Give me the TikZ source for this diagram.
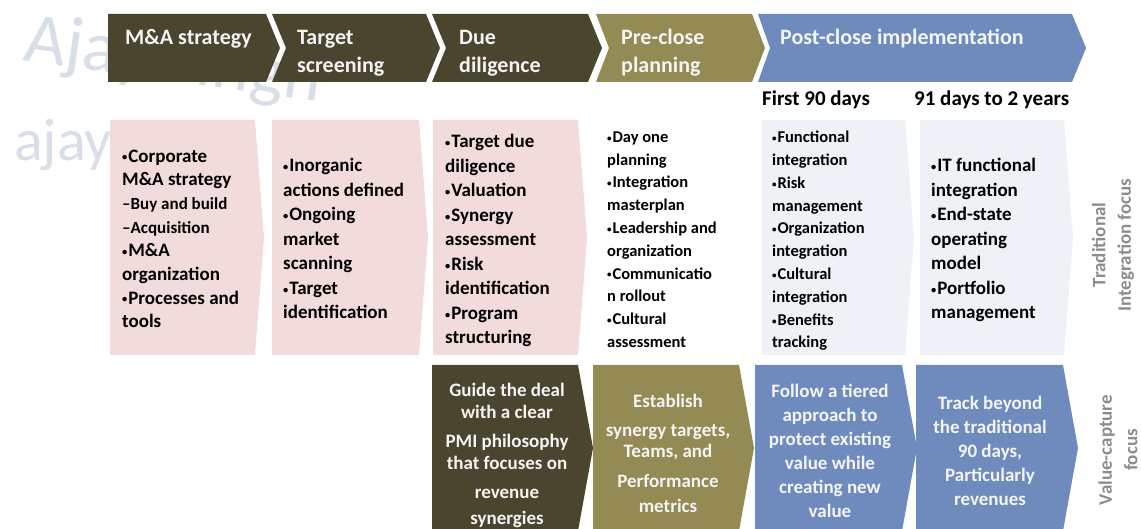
\documentclass[tikz,border=0pt]{standalone}
\usepackage{fontspec}
\setmainfont{Carlito}
\usepackage{graphicx}
\definecolor{darkol}{RGB}{74,69,46}
\definecolor{olive}{RGB}{148,138,84}
\definecolor{bluec}{RGB}{111,139,190}
\definecolor{pinkbox}{RGB}{242,220,219}
\definecolor{bluebox}{RGB}{238,241,246}
\definecolor{wmark}{RGB}{216,223,232}
\definecolor{sidegray}{RGB}{140,140,140}
\definecolor{txtw}{RGB}{244,244,244}
\newcommand{\chevshape}[7]{\fill[#1] (#2,#4) -- (#3,#4) -- ({#3+#7},{(#4+#5)/2}) -- (#3,#5) -- (#2,#5) -- ({#2+#6},{(#4+#5)/2}) -- cycle;}
\newcommand{\bu}{\raisebox{0.07em}{\scalebox{0.55}{•}}\hspace{0.05em}}
\tikzset{
  phase/.style={font=\fontsize{22}{28}\selectfont\bfseries, text=txtw, anchor=base west, align=left, inner sep=0pt},
  item/.style={font=\fontsize{19}{24.5}\selectfont\bfseries, text=black, anchor=base west, align=left, inner sep=0pt},
  itemsm/.style={font=\fontsize{16.5}{22.8}\selectfont\bfseries, text=black, anchor=base west, align=left, inner sep=0pt},
  period/.style={font=\fontsize{21}{26}\selectfont\bfseries, text=black, anchor=base west, inner sep=0pt},
  capt/.style={font=\fontsize{19}{24}\selectfont\bfseries, text=txtw, anchor=base, align=center, inner sep=0pt},
  side/.style={font=\fontsize{19}{25.5}\selectfont\bfseries, text=sidegray, align=center, rotate=90, inner sep=0pt},
  wm/.style={font=\fontsize{72}{80}\selectfont, text=wmark, anchor=base west, inner sep=0pt}
}
\begin{document}
\begin{tikzpicture}[x=1pt,y=-1pt]
\useasboundingbox (0,0) rectangle (1141,529);
% watermark
\node[wm, rotate=-8] (wm1) at (22,60) {Ajay Singh};
\node[wm, font=\fontsize{60}{70}\selectfont] (wm2) at (14,161) {ajay};
% top chevrons
\chevshape{darkol}{108}{266}{14}{82}{0}{14}
\chevshape{darkol}{272}{426}{14}{82}{14}{14}
\chevshape{darkol}{432}{588}{14}{82}{14}{14}
\chevshape{olive}{596}{752}{14}{82}{13}{13}
\chevshape{bluec}{758}{1072}{14}{82}{12}{14}
\node[phase] (p1) at (125,45) {M\&A strategy};
\node[phase] (p2) at (297,73) {Target\\screening};
\node[phase] (p3) at (459,73) {Due\\diligence};
\node[phase] (p4) at (621,73) {Pre-close\\planning};
\node[phase] (p5) at (780,45) {Post-close implementation};
\node[period] (t1) at (762,106) {First 90 days};
\node[period] (t2) at (914,106) {91 days to 2 years};
% content boxes
\chevshape{pinkbox}{110}{255}{120}{355}{0}{9}
\chevshape{pinkbox}{272}{419}{120}{355}{0}{9}
\chevshape{pinkbox}{433}{578}{120}{355}{0}{9}
\chevshape{bluebox}{762}{905}{120}{355}{0}{9}
\chevshape{bluebox}{920}{1064}{120}{355}{0}{9}
\node[item, font=\fontsize{19}{23.7}\selectfont\bfseries] (b1) at (122,328) {\bu Corporate\\M\&A strategy\\{\fontsize{17}{23.7}\selectfont –Buy and build}\\{\fontsize{17}{23.7}\selectfont –Acquisition}\\\bu M\&A\\organization\\\bu Processes and\\tools};
\node[item] (b2) at (283,319) {\bu Inorganic\\actions defined\\\bu Ongoing\\market\\scanning\\\bu Target\\identification};
\node[item] (b3) at (445,344) {\bu Target due\\diligence\\\bu Valuation\\\bu Synergy\\assessment\\\bu Risk\\identification\\\bu Program\\structuring};
\node[itemsm] (b4) at (607,347.5) {\bu Day one\\planning\\\bu Integration\\masterplan\\\bu Leadership and\\organization\\\bu Communicatio\\n rollout\\\bu Cultural\\assessment};
\node[itemsm] (b5) at (772,348) {\bu Functional\\integration\\\bu Risk\\management\\\bu Organization\\integration\\\bu Cultural\\integration\\\bu Benefits\\tracking};
\node[item] (b6) at (931,319) {\bu IT functional\\integration\\\bu End-state\\operating\\model\\\bu Portfolio\\management};
% bottom boxes
\chevshape{darkol}{432}{578}{365}{531}{0}{15}
\chevshape{olive}{593}{739}{365}{531}{0}{15}
\chevshape{bluec}{755}{902}{365}{531}{0}{15}
\chevshape{bluec}{916}{1063}{365}{531}{0}{15}
\node[capt, font=\fontsize{19}{22}\selectfont\bfseries] (v1) at (507,524) {Guide the deal\\with a clear\\[7pt]PMI philosophy\\that focuses on\\[7pt]revenue\\[4pt]synergies};
\node[capt, font=\fontsize{19}{21}\selectfont\bfseries] (v2) at (668,512) {Establish\\[8pt]synergy targets,\\Teams, and\\[9pt]Performance\\[4pt]metrics};
\node[capt] (v3) at (830,517) {Follow a tiered\\approach to\\protect existing\\value while\\creating new\\value};
\node[capt] (v4) at (990,505) {Track beyond\\the traditional\\90 days,\\Particularly\\revenues};
% side labels
\node[side] (s1) at (1113,245) {Traditional\\Integration focus};
\node[side] (s2) at (1118,450) {Value-capture\\focus};
\end{tikzpicture}
\end{document}
